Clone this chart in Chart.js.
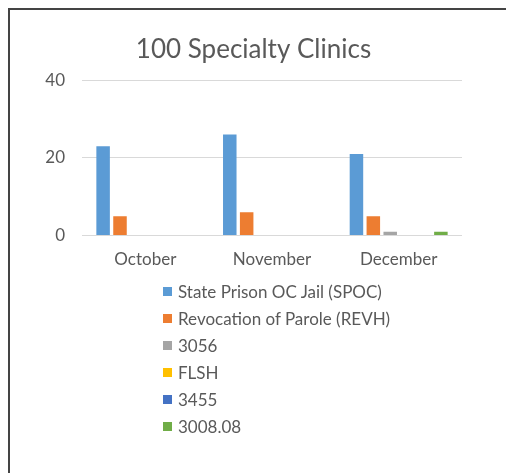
<!DOCTYPE html>
<html>
<head>
<meta charset="utf-8">
<title>100 Specialty Clinics</title>
<script src="https://cdn.jsdelivr.net/npm/chart.js@4"></script>
<style>
    body { margin: 0; background: #fff; }
    #wrap { position: relative; width: 506px; height: 473px; overflow: hidden; font-family: Lato, sans-serif; }
    #frame { position: absolute; left: 8px; top: 8px; width: 520px; height: 480px; border-top: 2px solid #444; border-left: 2px solid #444; }
    #chart { position: absolute; left: 0; top: 0; }
    #legend { position: absolute; left: 163px; top: 278px; list-style: none; margin: 0; padding: 0; }
    #legend li { height: 27px; font-size: 17px; color: #595959; display: flex; align-items: center; }
    #legend .box { display: inline-block; width: 9px; height: 9px; margin-right: 6px; }
</style>
</head>
<body>
<div id="wrap">
    <div id="frame"></div>
    <canvas id="chart" width="506" height="473"></canvas>
    <ul id="legend"></ul>
</div>
<script>
// Data
const months = ['October', 'November', 'December'];
const seriesNames = ['State Prison OC Jail (SPOC)', 'Revocation of Parole (REVH)', '3056', 'FLSH', '3455', '3008.08'];
const spoc = [23, 26, 21];
const revh = [5, 6, 5];
const s3056 = [0, 0, 1];
const flsh = [0, 0, 0];
const s3455 = [0, 0, 0];
const s300808 = [0, 0, 1];
const yTicks = [0, 20, 40];

const seriesColors = ['#5B9BD5', '#ED7D31', '#A5A5A5', '#FFC000', '#4472C4', '#70AD47'];
const seriesValues = [spoc, revh, s3056, flsh, s3455, s300808];
const textColor = '#595959';

document.addEventListener('DOMContentLoaded', function() {
    const ctx = document.getElementById('chart').getContext('2d');
    const chart = new Chart(ctx, {
        type: 'bar',
        data: {
            labels: months,
            datasets: seriesNames.map(function(name, i) {
                return {
                    label: name,
                    data: seriesValues[i],
                    backgroundColor: seriesColors[i],
                    borderWidth: 0,
                    barPercentage: 0.8,
                    categoryPercentage: 0.8
                };
            })
        },
        options: {
            responsive: false,
            animation: false,
            layout: {
                padding: { left: 45, right: 44, top: 0, bottom: 189 }
            },
            plugins: {
                legend: { display: false },
                tooltip: { enabled: false },
                title: {
                    display: true,
                    text: '100 Specialty Clinics',
                    color: textColor,
                    font: { family: 'Lato', size: 26, weight: 'normal' },
                    padding: { top: 34, bottom: 15 }
                }
            },
            scales: {
                x: {
                    grid: { display: false, drawTicks: false },
                    border: { display: false },
                    ticks: {
                        color: textColor,
                        font: { family: 'Lato', size: 17 },
                        padding: 14
                    }
                },
                y: {
                    min: yTicks[0],
                    max: yTicks[yTicks.length - 1],
                    afterBuildTicks: function(scale) {
                        scale.ticks = yTicks.map(function(v) { return { value: v }; });
                    },
                    afterFit: function(scale) {
                        scale.width = 37;
                    },
                    grid: { color: '#d9d9d9', lineWidth: 1, drawTicks: false },
                    border: { display: false },
                    ticks: {
                        color: textColor,
                        font: { family: 'Lato', size: 17 },
                        padding: 17
                    }
                }
            }
        }
    });

    // Vertical legend, one series per row
    const legendEl = document.getElementById('legend');
    chart.data.datasets.forEach(function(ds) {
        const li = document.createElement('li');
        const box = document.createElement('span');
        box.className = 'box';
        box.style.background = ds.backgroundColor;
        li.appendChild(box);
        li.appendChild(document.createTextNode(ds.label));
        legendEl.appendChild(li);
    });
});
</script>
</body>
</html>
